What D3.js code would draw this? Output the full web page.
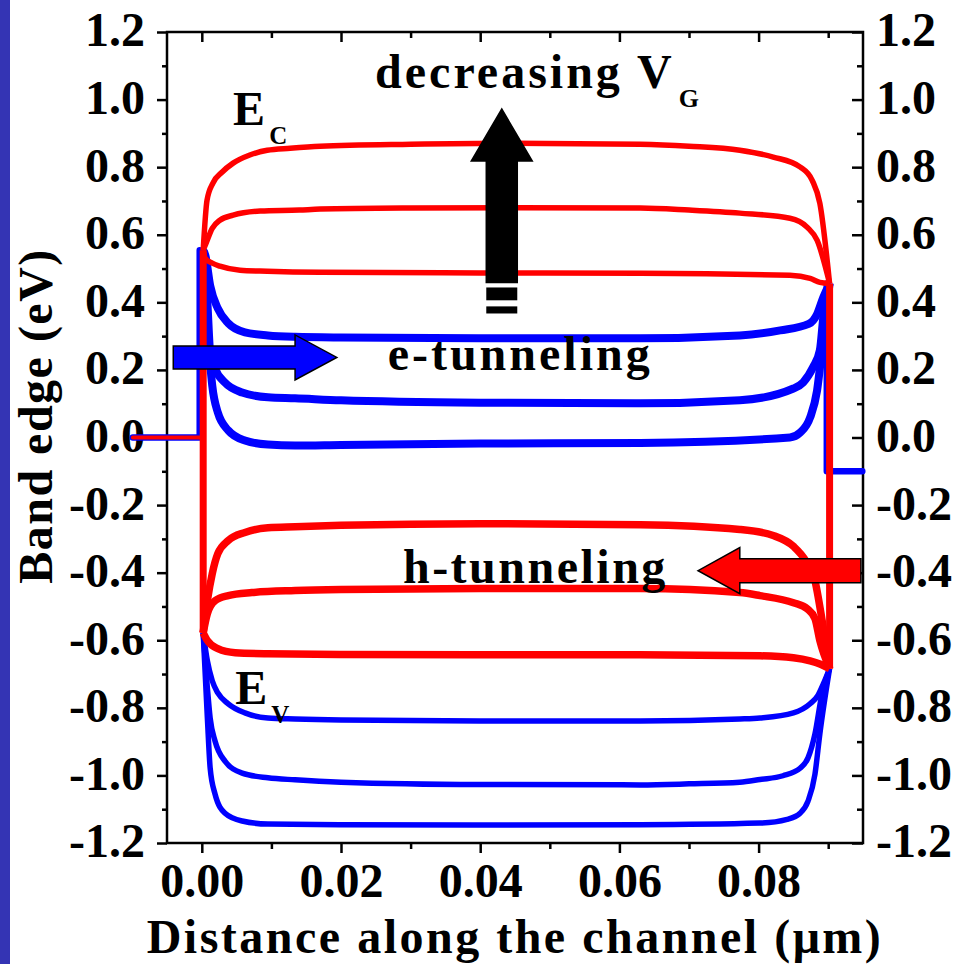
<!DOCTYPE html>
<html>
<head>
<meta charset="utf-8">
<script src="https://cdn.jsdelivr.net/npm/d3@7"></script>
<style>
  html, body { margin: 0; padding: 0; background: #fff; }
  svg { display: block; }
  text { font-family: "Liberation Serif", "Times New Roman", serif; font-weight: bold; }
</style>
</head>
<body>
<div class="container"></div>
<script>
(function() {
  // Axis ticks
  var yMajor = [-1.2, -1.0, -0.8, -0.6, -0.4, -0.2, 0.0, 0.2, 0.4, 0.6, 0.8, 1.0, 1.2];
  var yMinor = [-1.1, -0.9, -0.7, -0.5, -0.3, -0.1, 0.1, 0.3, 0.5, 0.7, 0.9, 1.1];
  var xMajor = [0.00, 0.02, 0.04, 0.06, 0.08];
  var xMinor = [0.01, 0.03, 0.05, 0.07, 0.09];

  // Conduction band edge (thin red), one per gate voltage: [distance (um), energy (eV)]
  var ecHigh = [[0.0002, 0.554], [0.00075, 0.702], [0.0016, 0.753], [0.0029, 0.785], [0.0045, 0.812], [0.0069, 0.836],
    [0.0094, 0.850], [0.0127, 0.856], [0.017, 0.862], [0.03, 0.868], [0.045, 0.871], [0.063, 0.868], [0.070, 0.862],
    [0.0773, 0.850], [0.0821, 0.830], [0.086, 0.800], [0.0877, 0.761], [0.0888, 0.693], [0.0902, 0.456]];
  var ecMid = [[0.0002, 0.554], [0.0005, 0.569], [0.0015, 0.619], [0.0026, 0.643], [0.0045, 0.658], [0.0084, 0.670],
    [0.014, 0.673], [0.017, 0.676], [0.03, 0.679], [0.045, 0.680], [0.063, 0.679], [0.070, 0.673], [0.0773, 0.664],
    [0.0845, 0.649], [0.087, 0.622], [0.0884, 0.584], [0.0902, 0.456]];
  var ecLow = [[0.0002, 0.554], [0.0005, 0.530], [0.0015, 0.516], [0.0026, 0.507], [0.0055, 0.495], [0.0094, 0.492],
    [0.017, 0.489], [0.04, 0.487], [0.063, 0.486], [0.0845, 0.480], [0.0874, 0.471], [0.0888, 0.459], [0.0902, 0.456]];

  // Electron side band edge (thick blue)
  var eHigh = [[0.0002, 0.554], [0.0005, 0.540], [0.0012, 0.450], [0.0023, 0.382], [0.0038, 0.338], [0.0062, 0.311],
    [0.0095, 0.302], [0.0134, 0.298], [0.02, 0.296], [0.04, 0.294], [0.063, 0.294], [0.0773, 0.302], [0.0831, 0.317],
    [0.0872, 0.336], [0.0884, 0.365], [0.0893, 0.415], [0.0902, 0.456]];
  var eMid = [[0.0002, 0.554], [0.0008, 0.400], [0.0012, 0.252], [0.0019, 0.204], [0.0033, 0.163], [0.0058, 0.133],
    [0.0095, 0.119], [0.0134, 0.116], [0.02, 0.110], [0.04, 0.103], [0.063, 0.101], [0.0773, 0.110], [0.0850, 0.145],
    [0.0864, 0.163], [0.0878, 0.207], [0.0888, 0.258], [0.0893, 0.356], [0.0902, 0.456]];
  var eLow = [[0.0002, 0.554], [0.0009, 0.302], [0.0015, 0.154], [0.0023, 0.074], [0.0038, 0.021], [0.0062, -0.009],
    [0.0095, -0.021], [0.0134, -0.024], [0.02, -0.022], [0.04, -0.018], [0.063, -0.016], [0.0845, 0.000],
    [0.086, 0.015], [0.0874, 0.059], [0.0884, 0.139], [0.0891, 0.258], [0.0902, 0.456]];

  // Hole side band edge (thick red)
  var hHigh = [[0.0002, -0.578], [0.0008, -0.483], [0.0015, -0.403], [0.0023, -0.344], [0.0038, -0.305], [0.0062, -0.281],
    [0.0095, -0.267], [0.0134, -0.264], [0.02, -0.260], [0.04, -0.255], [0.063, -0.258], [0.0773, -0.272],
    [0.0821, -0.290], [0.085, -0.322], [0.0868, -0.366], [0.0881, -0.424], [0.0891, -0.538], [0.0902, -0.684]];
  var hMid = [[0.0002, -0.578], [0.0008, -0.521], [0.0019, -0.483], [0.0038, -0.468], [0.0072, -0.459], [0.0134, -0.453],
    [0.02, -0.450], [0.04, -0.447], [0.063, -0.447], [0.0773, -0.459], [0.0802, -0.468], [0.0850, -0.489],
    [0.087, -0.507], [0.0881, -0.536], [0.0888, -0.601], [0.0902, -0.684]];
  var hLow = [[0.0002, -0.578], [0.0008, -0.601], [0.0023, -0.625], [0.0048, -0.637], [0.0095, -0.640], [0.02, -0.642],
    [0.04, -0.643], [0.063, -0.643], [0.0802, -0.646], [0.085, -0.652], [0.0874, -0.661], [0.0888, -0.670], [0.0902, -0.684]];

  // Valence band edge (thin blue)
  var evHigh = [[0.0002, -0.578], [0.0008, -0.661], [0.0015, -0.720], [0.0023, -0.756], [0.0038, -0.788], [0.0062, -0.815],
    [0.0095, -0.830], [0.0134, -0.833], [0.02, -0.836], [0.04, -0.839], [0.063, -0.839], [0.0773, -0.833],
    [0.0802, -0.830], [0.085, -0.815], [0.0874, -0.788], [0.0885, -0.764], [0.0893, -0.729], [0.0902, -0.684]];
  var evMid = [[0.0002, -0.578], [0.0008, -0.741], [0.0012, -0.830], [0.0019, -0.898], [0.0033, -0.957], [0.0058, -0.993],
    [0.0095, -1.007], [0.0134, -1.013], [0.02, -1.020], [0.04, -1.027], [0.063, -1.028], [0.070, -1.025],
    [0.0773, -1.020], [0.0802, -1.012], [0.0835, -1.001], [0.0860, -0.978], [0.0871, -0.948], [0.0881, -0.877],
    [0.0891, -0.759], [0.0902, -0.684]];
  var evLow = [[0.0002, -0.578], [0.0008, -0.830], [0.0012, -0.978], [0.0019, -1.055], [0.0033, -1.111], [0.0058, -1.135],
    [0.0095, -1.144], [0.02, -1.146], [0.04, -1.147], [0.063, -1.146], [0.0802, -1.141], [0.0841, -1.130],
    [0.086, -1.111], [0.0871, -1.076], [0.0881, -0.996], [0.0888, -0.877], [0.0902, -0.684]];

  // Junction walls and contact levels
  var sourceWall = [[0.0002, 0.554], [0.0002, -0.578]];
  var drainWall = [[0.0902, 0.456], [0.0902, -0.684]];
  var sourceLevel = [[-0.0099, 0], [-0.0003, 0], [-0.0003, 0.554]];
  var sourceLevelTop = [[-0.0099, 0], [0.0002, 0]];
  var drainLevel = [[0.0898, 0.456], [0.0898, -0.1], [0.0949, -0.1]];

  var W = 960, H = 964;
  var M = { left: 167, right: 863, top: 32, bottom: 843 };

  var svg = d3.select('div.container').append('svg')
    .attr('width', W).attr('height', H);

  svg.append('rect').attr('width', W).attr('height', H).attr('fill', '#fff');
  // slide edge strip
  svg.append('rect').attr('x', 0).attr('y', 0).attr('width', 10).attr('height', H).attr('fill', '#3434b4');

  var x = d3.scaleLinear().domain([-0.005, 0.095]).range([M.left, M.right]);
  var y = d3.scaleLinear().domain([-1.2, 1.2]).range([M.bottom, M.top]);

  var line = d3.line().x(function(d) { return x(d[0]); }).y(function(d) { return y(d[1]); });
  var smooth = d3.line().x(function(d) { return x(d[0]); }).y(function(d) { return y(d[1]); })
    .curve(d3.curveMonotoneX);

  var fmtY = function(d) { return d.toFixed(1); };
  var fmtX = function(d) { return d.toFixed(2); };

  var styleAxis = function(g) {
    g.select('.domain').remove();
    g.selectAll('line').attr('stroke', '#000').attr('stroke-width', 2.5);
    g.selectAll('text').attr('fill', '#000').style('font-size', '48px');
  };

  // axes: left/bottom ticks point out, right/top ticks point in
  svg.append('g').attr('transform', 'translate(' + M.left + ',0)')
    .call(d3.axisLeft(y).tickValues(yMajor).tickSize(10).tickPadding(12).tickFormat(fmtY))
    .call(styleAxis)
    .selectAll('text').attr('dy', '0.29em');
  svg.append('g').attr('transform', 'translate(' + M.left + ',0)')
    .call(d3.axisLeft(y).tickValues(yMinor).tickSize(5).tickFormat(''))
    .call(styleAxis);
  svg.append('g').attr('transform', 'translate(' + M.right + ',0)')
    .call(d3.axisRight(y).tickValues(yMajor).tickSize(-11).tickPadding(13).tickFormat(fmtY))
    .call(styleAxis)
    .selectAll('text').attr('dy', '0.29em');
  svg.append('g').attr('transform', 'translate(' + M.right + ',0)')
    .call(d3.axisRight(y).tickValues(yMinor).tickSize(-6).tickFormat(''))
    .call(styleAxis);
  svg.append('g').attr('transform', 'translate(0,' + M.bottom + ')')
    .call(d3.axisBottom(x).tickValues(xMajor).tickSize(10).tickPadding(10).tickFormat(fmtX))
    .call(styleAxis);
  svg.append('g').attr('transform', 'translate(0,' + M.bottom + ')')
    .call(d3.axisBottom(x).tickValues(xMinor).tickSize(6).tickFormat(''))
    .call(styleAxis);
  svg.append('g').attr('transform', 'translate(0,' + M.top + ')')
    .call(d3.axisTop(x).tickValues(xMajor).tickSize(-10).tickFormat(''))
    .call(styleAxis);
  svg.append('g').attr('transform', 'translate(0,' + M.top + ')')
    .call(d3.axisTop(x).tickValues(xMinor).tickSize(-6).tickFormat(''))
    .call(styleAxis);

  svg.append('rect')
    .attr('x', M.left).attr('y', M.top)
    .attr('width', M.right - M.left).attr('height', M.bottom - M.top)
    .attr('fill', 'none').attr('stroke', '#000').attr('stroke-width', 2.5);

  // contact levels (blue under red)
  var plot = svg.append('g').attr('fill', 'none').attr('stroke-linejoin', 'round');
  plot.append('path').attr('d', line(sourceLevel)).attr('stroke', '#0000ff').attr('stroke-width', 6.5)
    .attr('stroke-linecap', 'round');
  plot.append('path').attr('d', line(sourceLevelTop)).attr('stroke', '#ff0000').attr('stroke-width', 4)
    .attr('stroke-linecap', 'round');
  plot.append('path').attr('d', line(drainLevel)).attr('stroke', '#0000ff').attr('stroke-width', 6.5)
    .attr('stroke-linecap', 'round');

  var curves = [
    { data: evHigh, color: '#0000ff', width: 5.5 },
    { data: evMid, color: '#0000ff', width: 5.5 },
    { data: evLow, color: '#0000ff', width: 5.5 },
    { data: hHigh, color: '#ff0000', width: 7.5 },
    { data: hMid, color: '#ff0000', width: 7.5 },
    { data: hLow, color: '#ff0000', width: 7.5 },
    { data: eHigh, color: '#0000ff', width: 8 },
    { data: eMid, color: '#0000ff', width: 8 },
    { data: eLow, color: '#0000ff', width: 8 },
    { data: ecHigh, color: '#ff0000', width: 5.5 },
    { data: ecMid, color: '#ff0000', width: 5.5 },
    { data: ecLow, color: '#ff0000', width: 5.5 }
  ];
  plot.selectAll('path.band').data(curves).enter().append('path')
    .attr('class', 'band')
    .attr('d', function(d) { return smooth(d.data); })
    .attr('stroke', function(d) { return d.color; })
    .attr('stroke-width', function(d) { return d.width; });

  plot.append('path').attr('d', line(sourceWall)).attr('stroke', '#ff0000').attr('stroke-width', 7);
  plot.append('path').attr('d', line(drainWall)).attr('stroke', '#ff0000').attr('stroke-width', 7);

  // block arrows: tail, head base and tip along the arrow axis
  var drawArrow = function(pts, fill, shaftHalf, headHalf, vertical) {
    var p;
    if (vertical) {
      var cx = x(pts.at), t0 = y(pts.tail), hb = y(pts.base), tp = y(pts.tip);
      p = [[cx - shaftHalf, t0], [cx - shaftHalf, hb], [cx - headHalf, hb], [cx, tp],
           [cx + headHalf, hb], [cx + shaftHalf, hb], [cx + shaftHalf, t0]];
    } else {
      var cy = y(pts.at), x0 = x(pts.tail), xb = x(pts.base), xt = x(pts.tip);
      p = [[x0, cy - shaftHalf], [xb, cy - shaftHalf], [xb, cy - headHalf], [xt, cy],
           [xb, cy + headHalf], [xb, cy + shaftHalf], [x0, cy + shaftHalf]];
    }
    svg.append('path').attr('d', 'M' + p.join('L') + 'Z')
      .attr('fill', fill).attr('stroke', '#000').attr('stroke-width', 1.5).attr('stroke-linejoin', 'miter');
  };

  var vgArrow = { at: 0.0431, tail: 0.459, base: 0.818, tip: 0.972 };
  var eArrow = { at: 0.237, tail: -0.0041, base: 0.0134, tip: 0.0194 };
  var hArrow = { at: -0.394, tail: 0.0947, base: 0.0773, tip: 0.0713 };
  var vgDashes = [[0.444, 0.406], [0.388, 0.367]];

  drawArrow(vgArrow, '#000', 15.5, 30.5, true);
  svg.selectAll('rect.dash').data(vgDashes).enter().append('rect')
    .attr('class', 'dash')
    .attr('x', x(vgArrow.at) - 15.5).attr('width', 31)
    .attr('y', function(d) { return y(d[0]); })
    .attr('height', function(d) { return y(d[1]) - y(d[0]); })
    .attr('fill', '#000');
  drawArrow(eArrow, '#0000ff', 11.5, 22.5, false);
  drawArrow(hArrow, '#ff0000', 12, 23, false);

  // labels
  var label = function(px, py, main, sub, subSize, subDy, spacing) {
    var t = svg.append('text').attr('x', x(px)).attr('y', y(py))
      .style('font-size', '48px').style('letter-spacing', spacing + 'px').attr('fill', '#000')
      .text(main);
    if (sub) {
      t.append('tspan').attr('dy', subDy).attr('dx', 4).style('font-size', subSize + 'px')
        .style('letter-spacing', '0px').text(sub);
    }
  };
  label(0.0249, 1.034, 'decreasing V', 'G', 26, 19, 3);
  label(0.0045, 0.924, 'E', 'C', 25, 19, 0);
  label(0.0048, -0.788, 'E', 'V', 25, 19, 0);
  label(0.0267, 0.200, 'e-tunneling', null, 0, 0, 3);
  label(0.0289, -0.430, 'h-tunneling', null, 0, 0, 2.5);

  // axis titles
  svg.append('text')
    .attr('transform', 'translate(52,416) rotate(-90)')
    .attr('text-anchor', 'middle')
    .style('font-size', '48px').style('letter-spacing', '1.5px')
    .text('Band edge (eV)');
  svg.append('text')
    .attr('x', 515).attr('y', 953)
    .attr('text-anchor', 'middle')
    .style('font-size', '48px').style('letter-spacing', '2.5px')
    .text('Distance along the channel (\u03bcm)');
})();
</script>
</body>
</html>
